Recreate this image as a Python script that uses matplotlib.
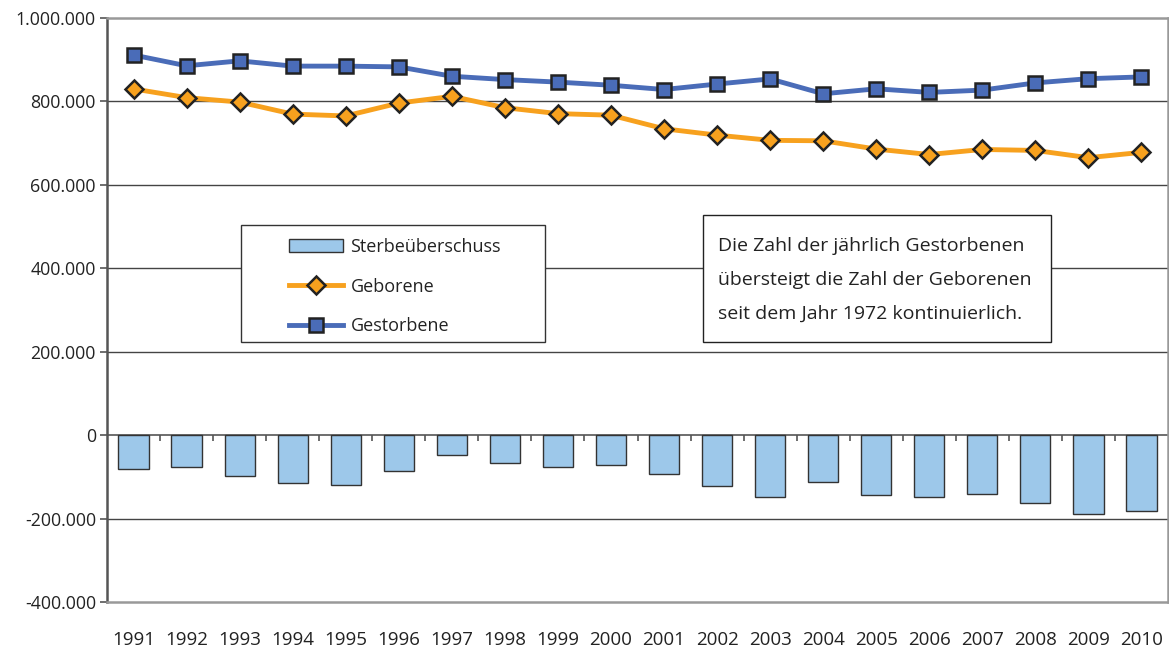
"""Geborene, Gestorbene und Sterbeüberschuss 1991-2010."""

import matplotlib

matplotlib.use("Agg")
import matplotlib.pyplot as plt
from matplotlib.patches import Rectangle
from matplotlib.ticker import FuncFormatter

plt.rcParams["font.family"] = ["Open Sans", "DejaVu Sans"]

years = [str(y) for y in range(1991, 2011)]
geborene = [830019, 809114, 798447, 769603, 765221, 796013, 812173, 785034, 770744, 766999,
            734475, 719250, 706721, 705622, 685795, 672724, 684862, 682514, 665126, 677947]
gestorbene = [911245, 885443, 897270, 884661, 884588, 882843, 860389, 852382, 846330, 838797,
              828541, 841686, 853946, 818271, 830227, 821627, 827155, 844439, 854544, 858768]
sterbeueberschuss = [-81226, -76329, -98823, -115058, -119367, -86830, -48216, -67348, -75586, -71798,
                     -94066, -122436, -147225, -112649, -144432, -148903, -142293, -161925, -189418, -180821]

C_BAR = "#9DC8EA"
C_ORANGE = "#F7A11E"
C_BLUE = "#4A6CB8"
C_EDGE = "#222222"
C_TEXT = "#222222"

fig = plt.figure(figsize=(11.69, 6.5), dpi=100)
ax = fig.add_axes([107 / 1169, 48 / 650, 1061 / 1169, 584 / 650])


def ax_x(px):
    return (px - 107) / 1061


def ax_y(py):
    return (602 - py) / 584


x = list(range(len(years)))

# gridlines behind everything
for yv in [800000, 600000, 400000, 200000, -200000]:
    ax.axhline(yv, color="#444444", lw=1.0, zorder=0)
ax.axhline(0, color="#555555", lw=1.2, zorder=1)

bars = ax.bar(x, sterbeueberschuss, width=0.57, color=C_BAR, edgecolor="#333333",
              linewidth=1.0, zorder=2, label="Sterbeüberschuss")
l_geb, = ax.plot(x, geborene, color=C_ORANGE, lw=3.5, marker="D", markersize=9,
                 markerfacecolor=C_ORANGE, markeredgecolor=C_EDGE, markeredgewidth=1.8,
                 zorder=3, label="Geborene")
l_gest, = ax.plot(x, gestorbene, color=C_BLUE, lw=3.5, marker="s", markersize=10,
                  markerfacecolor=C_BLUE, markeredgecolor=C_EDGE, markeredgewidth=1.8,
                  zorder=4, label="Gestorbene")

# small category separators on the zero line
ax.vlines([i + 0.5 for i in x[:-1]], 0, -14000, color="#555555", lw=1.2, zorder=1)

ax.set_xlim(-0.5, len(years) - 0.5)
ax.set_ylim(-400000, 1000000)
ax.set_yticks(range(-400000, 1000001, 200000))
ax.yaxis.set_major_formatter(FuncFormatter(lambda v, p: f"{int(v):,}".replace(",", ".")))
ax.set_xticks(x)
ax.set_xticklabels(years)
ax.tick_params(axis="x", length=0, pad=21, labelsize=13.5, labelcolor=C_TEXT)
ax.tick_params(axis="y", length=5, width=1.2, color="#555555", pad=3,
               labelsize=12.8, labelcolor=C_TEXT)

for side in ["top", "right", "bottom"]:
    ax.spines[side].set_color("#999999")
    ax.spines[side].set_linewidth(1.8)
ax.spines["left"].set_color("#555555")
ax.spines["left"].set_linewidth(1.8)

# legend with its own frame
ax.add_patch(Rectangle((ax_x(241), ax_y(342)), 304 / 1061, 117 / 584,
                       transform=ax.transAxes, facecolor="white", edgecolor="#333333",
                       lw=1.0, zorder=5))
leg = ax.legend([bars, l_geb, l_gest], ["Sterbeüberschuss", "Geborene", "Gestorbene"],
                loc="upper left", bbox_to_anchor=(ax_x(289), ax_y(238)),
                frameon=False, fontsize=13, handlelength=3.0, handletextpad=0.4,
                labelspacing=1.2, borderpad=0, borderaxespad=0)
leg.set_zorder(6)
for t in leg.get_texts():
    t.set_color(C_TEXT)

# note box
ax.add_patch(Rectangle((ax_x(703), ax_y(342)), 348 / 1061, 127 / 584,
                       transform=ax.transAxes, facecolor="white", edgecolor="#222222",
                       lw=1.0, zorder=5))
ax.text(ax_x(718), ax_y(237),
        "Die Zahl der jährlich Gestorbenen\nübersteigt die Zahl der Geborenen\n"
        "seit dem Jahr 1972 kontinuierlich.",
        transform=ax.transAxes, fontsize=14, color=C_TEXT, va="top",
        linespacing=2.12, zorder=6)

fig.savefig("out.png", dpi=100)
